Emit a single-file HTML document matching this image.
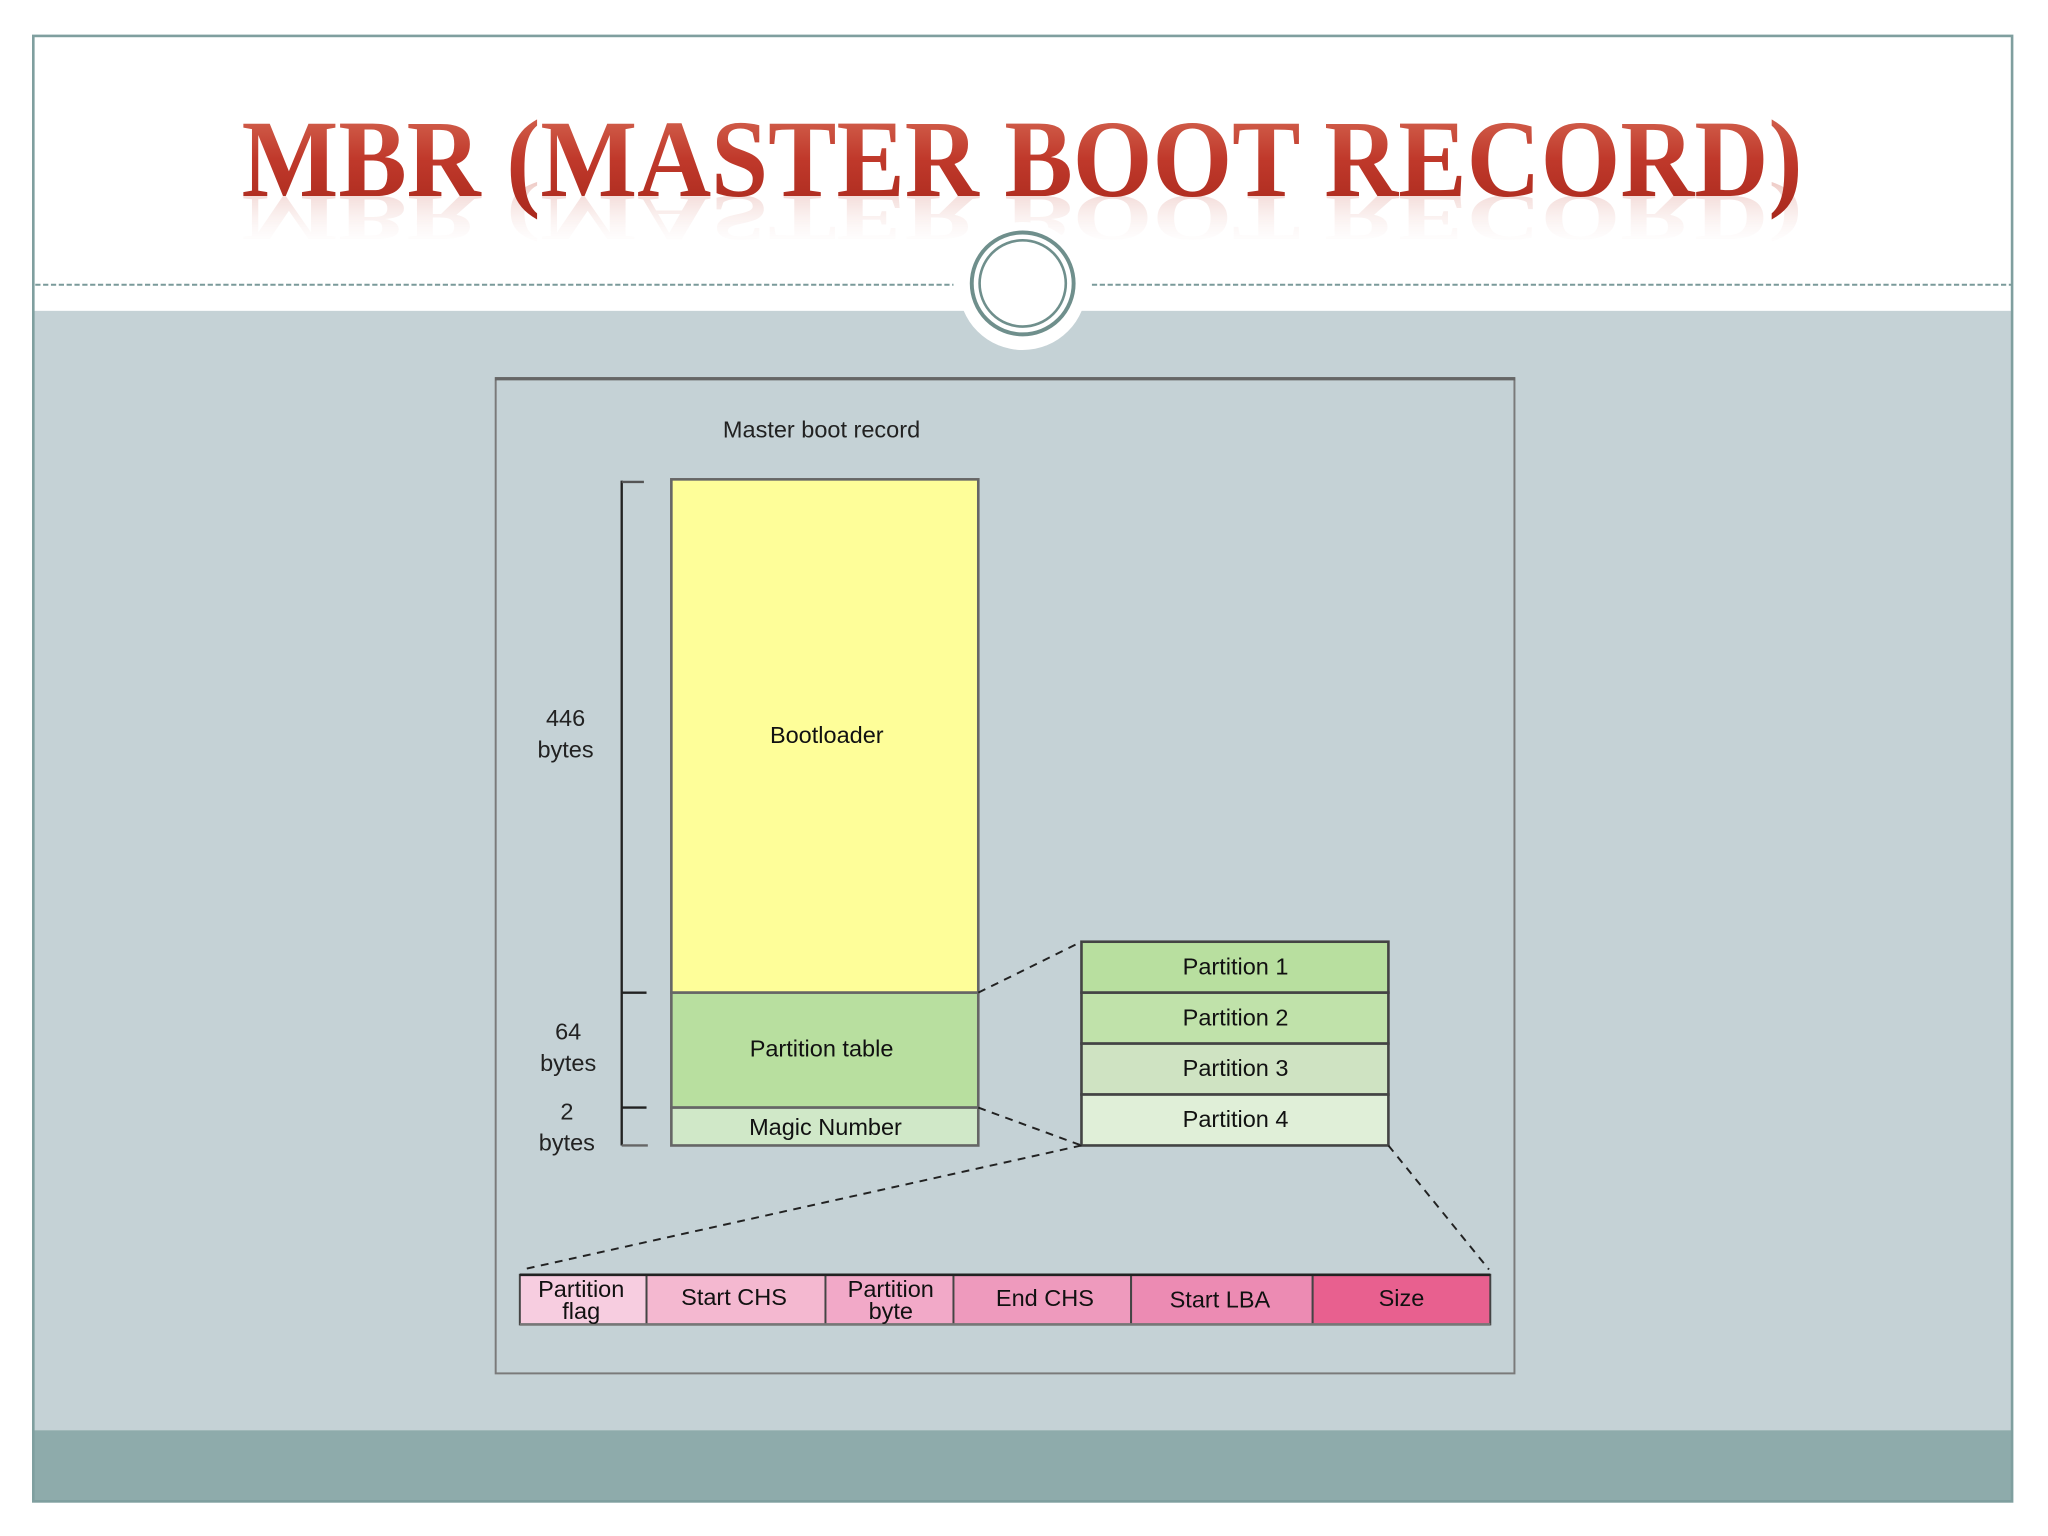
<!DOCTYPE html>
<html><head><meta charset="utf-8"><style>
html,body{margin:0;padding:0;background:#fff;}
svg{display:block;}
</style></head><body>
<svg width="2048" height="1536" viewBox="0 0 1568 1176" xmlns="http://www.w3.org/2000/svg" font-family="'Liberation Sans', sans-serif">
<defs>
<linearGradient id="tg" x1="0" y1="0" x2="0" y2="1">
<stop offset="0" stop-color="#d9705a"/><stop offset="0.5" stop-color="#c0392b"/><stop offset="1" stop-color="#a8281c"/>
</linearGradient>
<linearGradient id="rg" x1="0" y1="0" x2="0" y2="1">
<stop offset="0" stop-color="#fff" stop-opacity="0"/><stop offset="1" stop-color="#d98a80" stop-opacity="1"/>
</linearGradient>
</defs>
<rect x="0" y="0" width="1568" height="1176" fill="#fff"/>
<rect x="25" y="238" width="1516" height="857" fill="#c5d2d6"/>
<rect x="25" y="1095" width="1516" height="55" fill="#8eabab"/>
<rect x="25.5" y="27.5" width="1515" height="1122" fill="none" stroke="#7f9f9f" stroke-width="2"/>
<!-- title reflection -->
<g transform="translate(0,240) scale(1,-0.6)" opacity="0.45">
<text x="185" y="150" font-family="'Liberation Serif', serif" font-weight="bold" font-size="84" fill="url(#rg)" textLength="1195" lengthAdjust="spacingAndGlyphs">MBR (MASTER BOOT RECORD)</text>
</g>
<line x1="27" y1="218" x2="730" y2="218" stroke="#7a9a9a" stroke-width="1.5" stroke-dasharray="4,2"/>
<line x1="836" y1="218" x2="1540" y2="218" stroke="#7a9a9a" stroke-width="1.5" stroke-dasharray="4,2"/>
<text x="185" y="150" font-family="'Liberation Serif', serif" font-weight="bold" font-size="84" fill="url(#tg)" textLength="1195" lengthAdjust="spacingAndGlyphs">MBR (MASTER BOOT RECORD)</text>
<!-- circle -->
<circle cx="783" cy="219" r="49" fill="#fff"/>
<circle cx="783" cy="217" r="39" fill="#fff" stroke="#6f8f8c" stroke-width="3"/>
<circle cx="783" cy="217" r="33" fill="none" stroke="#6f8f8c" stroke-width="2"/>
<!-- diagram box -->
<rect x="379.5" y="289.5" width="780" height="762" fill="#c5d2d6" stroke="#7a7a7a" stroke-width="1.5"/>
<line x1="379" y1="290" x2="1160" y2="290" stroke="#666" stroke-width="2.5"/>
<text x="629" y="335" font-size="18" fill="#222" text-anchor="middle">Master boot record</text>
<!-- bracket -->
<g stroke="#222" stroke-width="1.8" fill="none">
<line x1="476" y1="368" x2="476" y2="877"/>
<line x1="476" y1="369" x2="493" y2="369" stroke="#555"/>
<line x1="476" y1="760" x2="495" y2="760"/>
<line x1="476" y1="848" x2="495" y2="848"/>
<line x1="476" y1="877" x2="496" y2="877" stroke="#666"/>
</g>
<g font-size="18" fill="#222" text-anchor="middle">
<text x="433" y="556">446</text><text x="433" y="580">bytes</text>
<text x="435" y="796">64</text><text x="435" y="820">bytes</text>
<text x="434" y="857">2</text><text x="434" y="881">bytes</text>
</g>
<!-- MBR stack -->
<g stroke="#666" stroke-width="2">
<rect x="514" y="367" width="235" height="393" fill="#fefe99"/>
<rect x="514" y="760" width="235" height="88" fill="#b8df9f"/>
<rect x="514" y="848" width="235" height="29" fill="#d0e8c8"/>
</g>
<g font-size="18" fill="#111" text-anchor="middle">
<text x="633" y="569">Bootloader</text>
<text x="629" y="809">Partition table</text>
<text x="632" y="869">Magic Number</text>
</g>
<!-- partitions -->
<g stroke="#444" stroke-width="2">
<rect x="828" y="721" width="235" height="39" fill="#b8df9f"/>
<rect x="828" y="760" width="235" height="39" fill="#c0e2aa"/>
<rect x="828" y="799" width="235" height="39" fill="#cfe3c2"/>
<rect x="828" y="838" width="235" height="39" fill="#e0efd8"/>
</g>
<g font-size="18" fill="#111" text-anchor="middle">
<text x="946" y="746">Partition 1</text>
<text x="946" y="785">Partition 2</text>
<text x="946" y="824">Partition 3</text>
<text x="946" y="863">Partition 4</text>
</g>
<!-- dashed connectors -->
<g stroke="#222" stroke-width="1.5" stroke-dasharray="6,5" fill="none">
<line x1="749" y1="760" x2="828" y2="721"/>
<line x1="749" y1="848" x2="828" y2="877"/>
<line x1="828" y1="877" x2="400" y2="972"/>
<line x1="1063" y1="877" x2="1140" y2="972"/>
</g>
<!-- entry fields -->
<g stroke="#444" stroke-width="1.5">
<rect x="398" y="976" width="97" height="38" fill="#f7cde0"/>
<rect x="495" y="976" width="137" height="38" fill="#f4b8d0"/>
<rect x="632" y="976" width="98" height="38" fill="#f2a9c8"/>
<rect x="730" y="976" width="136" height="38" fill="#ee9abd"/>
<rect x="866" y="976" width="139" height="38" fill="#ec8bb3"/>
<rect x="1005" y="976" width="136" height="38" fill="#e8608f"/>
</g>
<line x1="398" y1="976" x2="1141" y2="976" stroke="#222" stroke-width="2"/>
<line x1="398" y1="1014" x2="1141" y2="1014" stroke="#777" stroke-width="2"/>
<g font-size="18" fill="#111" text-anchor="middle">
<text x="445" y="993">Partition</text><text x="445" y="1010">flag</text>
<text x="562" y="999">Start CHS</text>
<text x="682" y="993">Partition</text><text x="682" y="1010">byte</text>
<text x="800" y="1000">End CHS</text>
<text x="934" y="1001">Start LBA</text>
<text x="1073" y="1000">Size</text>
</g>
</svg>
</body></html>
